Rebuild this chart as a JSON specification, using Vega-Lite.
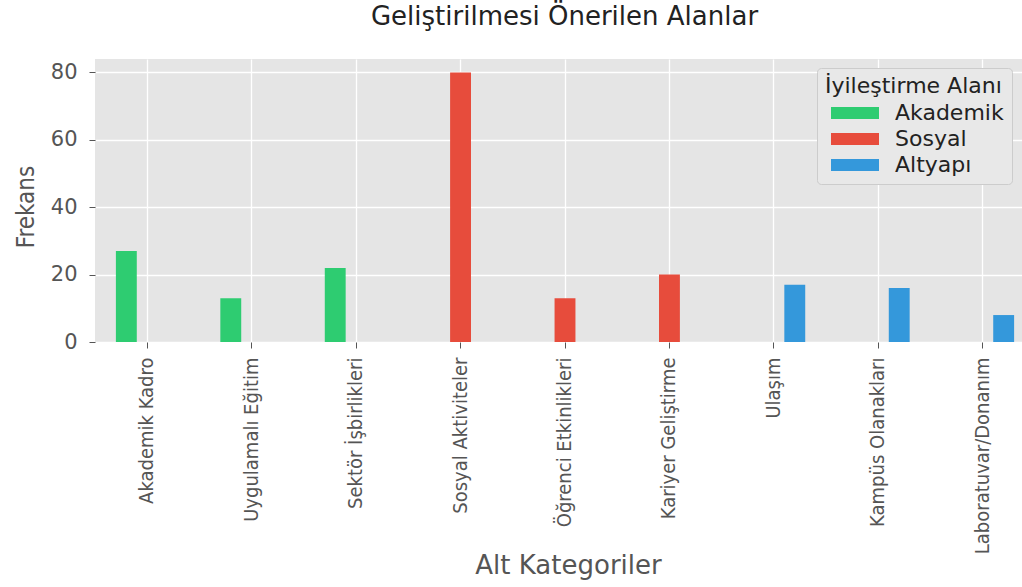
{
  "$schema": "https://vega.github.io/schema/vega-lite/v6.json",
  "autosize": "none",
  "width": 927,
  "height": 283,
  "padding": {"left": 95, "top": 59, "right": 0, "bottom": 245},
  "background": "white",
  "title": {
    "text": "Geliştirilmesi Önerilen Alanlar",
    "font": "DejaVu Sans",
    "fontSize": 26,
    "fontWeight": "normal",
    "color": "#222222",
    "anchor": "middle",
    "frame": "group",
    "offset": 29,
    "dx": 6
  },
  "data": {
    "values": [
      {"Alt Kategori": "Akademik Kadro", "Alan": "Akademik", "Frekans": 27},
      {"Alt Kategori": "Uygulamalı Eğitim", "Alan": "Akademik", "Frekans": 13},
      {"Alt Kategori": "Sektör İşbirlikleri", "Alan": "Akademik", "Frekans": 22},
      {"Alt Kategori": "Sosyal Aktiviteler", "Alan": "Sosyal", "Frekans": 80},
      {"Alt Kategori": "Öğrenci Etkinlikleri", "Alan": "Sosyal", "Frekans": 13},
      {"Alt Kategori": "Kariyer Geliştirme", "Alan": "Sosyal", "Frekans": 20},
      {"Alt Kategori": "Ulaşım", "Alan": "Altyapı", "Frekans": 17},
      {"Alt Kategori": "Kampüs Olanakları", "Alan": "Altyapı", "Frekans": 16},
      {"Alt Kategori": "Laboratuvar/Donanım", "Alan": "Altyapı", "Frekans": 8}
    ]
  },
  "mark": {"type": "bar"},
  "encoding": {
    "x": {
      "field": "Alt Kategori",
      "type": "nominal",
      "sort": ["Akademik Kadro", "Uygulamalı Eğitim", "Sektör İşbirlikleri", "Sosyal Aktiviteler", "Öğrenci Etkinlikleri", "Kariyer Geliştirme", "Ulaşım", "Kampüs Olanakları", "Laboratuvar/Donanım"],
      "scale": {"range": [0, 940], "paddingInner": 0, "paddingOuter": 0},
      "axis": {
        "title": "Alt Kategoriler",
        "bandPosition": 0.5,
        "domain": false,
        "grid": true,
        "gridColor": "white",
        "gridWidth": 1.3,
        "ticks": true,
        "tickSize": 6,
        "tickColor": "#555555",
        "tickWidth": 1,
        "labelAngle": 270,
        "labelAlign": "right",
        "labelBaseline": "middle",
        "labelPadding": 9,
        "labelFont": "DejaVu Sans Condensed, Liberation Sans Narrow, DejaVu Sans",
        "labelFontSize": 20,
        "labelColor": "#555555",
        "labelLimit": 400,
        "titleFont": "DejaVu Sans",
        "titleFontSize": 26,
        "titleFontWeight": "normal",
        "titleColor": "#555555",
        "titleX": 473,
        "titleY": 231,
        "titleAlign": "center",
        "titleBaseline": "alphabetic"
      }
    },
    "xOffset": {
      "field": "Alan",
      "type": "nominal",
      "scale": {"domain": ["Akademik", "Sosyal", "Altyapı"], "paddingInner": 0, "paddingOuter": 1.5}
    },
    "y": {
      "field": "Frekans",
      "type": "quantitative",
      "scale": {"domain": [0, 84], "nice": false},
      "axis": {
        "title": "Frekans",
        "values": [0, 20, 40, 60, 80],
        "domain": false,
        "grid": true,
        "gridColor": "white",
        "gridWidth": 1.3,
        "tickSize": 6,
        "tickColor": "#555555",
        "tickWidth": 1,
        "labelPadding": 12,
        "labelFont": "DejaVu Sans",
        "labelFontSize": 21,
        "labelColor": "#555555",
        "titleFont": "DejaVu Sans Condensed, Liberation Sans Narrow, DejaVu Sans",
        "titleFontSize": 24,
        "titleFontWeight": "normal",
        "titleColor": "#555555",
        "titleAngle": 270,
        "titleX": -62,
        "titleY": 147.5,
        "titleAlign": "center",
        "titleBaseline": "alphabetic"
      }
    },
    "color": {
      "field": "Alan",
      "type": "nominal",
      "scale": {"domain": ["Akademik", "Sosyal", "Altyapı"], "range": ["#2ECC71", "#E74C3C", "#3498DB"]},
      "legend": {
        "orient": "none",
        "legendX": 722,
        "legendY": 9,
        "title": "İyileştirme Alanı",
        "titleFont": "DejaVu Sans",
        "titleFontSize": 22,
        "titleFontWeight": "normal",
        "titleColor": "#222222",
        "titlePadding": 4,
        "labelFont": "DejaVu Sans",
        "labelFontSize": 22,
        "labelColor": "#222222",
        "labelOffset": 47,
        "symbolType": "M-1,-1H7V1H-1Z",
        "symbolSize": 144,
        "symbolStrokeWidth": 0,
        "symbolOffset": 1,
        "rowPadding": 4,
        "padding": 8,
        "fillColor": "#E8E8E8",
        "strokeColor": "#CCCCCC",
        "cornerRadius": 4
      }
    }
  },
  "config": {
    "view": {"fill": "#E5E5E5", "stroke": null}
  }
}
